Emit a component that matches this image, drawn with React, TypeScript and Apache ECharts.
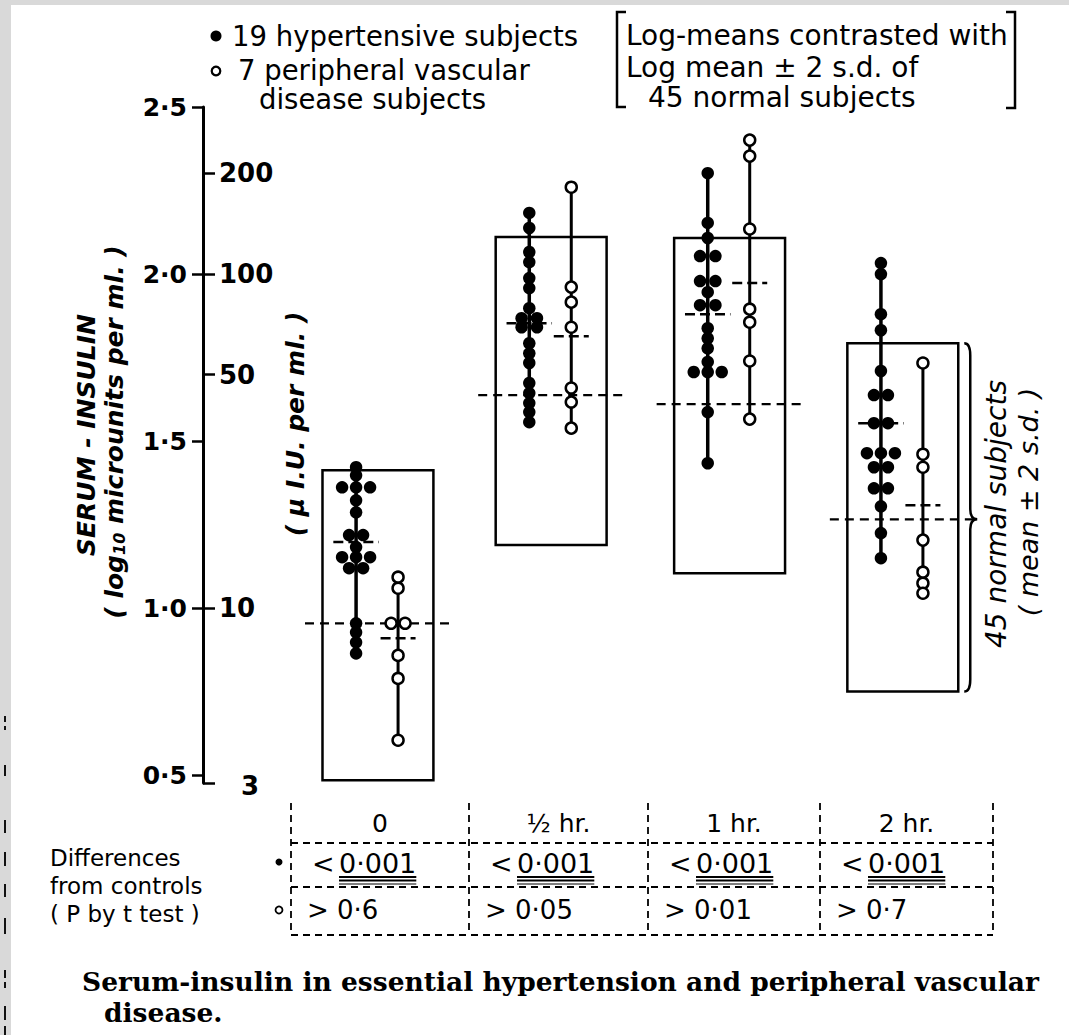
import React, { useEffect, useRef } from "react";
import * as echarts from "echarts";

// ---------------- data (log10 serum-insulin, microunits / ml) ----------------
const timeLabels = ["0", "½ hr.", "1 hr.", "2 hr."];

// 19 hypertensive subjects per time point
const hyper0 = [1.422, 1.398, 1.362, 1.362, 1.362, 1.323, 1.287, 1.219, 1.219, 1.183, 1.153, 1.153, 1.153, 1.12, 1.12, 0.955, 0.928, 0.898, 0.865];
const hyper1 = [2.183, 2.138, 2.066, 2.036, 1.988, 1.958, 1.898, 1.868, 1.868, 1.841, 1.841, 1.793, 1.763, 1.734, 1.674, 1.644, 1.614, 1.587, 1.557];
const hyper2 = [2.302, 2.153, 2.108, 2.054, 2.054, 1.979, 1.979, 1.946, 1.907, 1.907, 1.838, 1.808, 1.778, 1.737, 1.707, 1.707, 1.707, 1.587, 1.434];
const hyper3 = [2.033, 2.0, 1.88, 1.832, 1.71, 1.638, 1.638, 1.554, 1.554, 1.464, 1.464, 1.464, 1.422, 1.422, 1.359, 1.359, 1.305, 1.225, 1.15];
// side-by-side slot of each dot (tied values)
const hyperSlot0 = [0, 0, -1, 0, 1, 0, 0, -0.5, 0.5, 0, -1, 0, 1, -0.5, 0.5, 0, 0, 0, 0];
const hyperSlot1 = [0, 0, 0, 0, 0, 0, 0, -0.55, 0.55, -0.55, 0.55, 0, 0, 0, 0, 0, 0, 0, 0];
const hyperSlot2 = [0, 0, 0, -0.55, 0.55, -0.55, 0.55, 0, -0.55, 0.55, 0, 0, 0, 0, -1, 0, 1, 0, 0];
const hyperSlot3 = [0, 0, 0, 0, 0, -0.5, 0.5, -0.5, 0.5, -1, 0, 1, -0.5, 0.5, -0.5, 0.5, 0, 0, 0];

// 7 peripheral vascular disease subjects per time point
const pvd0 = [1.093, 1.06, 0.955, 0.955, 0.859, 0.79, 0.605];
const pvd1 = [2.26, 1.961, 1.916, 1.841, 1.659, 1.617, 1.539];
const pvd2 = [2.401, 2.353, 2.135, 1.895, 1.856, 1.74, 1.566];
const pvd3 = [1.734, 1.461, 1.422, 1.204, 1.108, 1.075, 1.045];
const pvdSlot0 = [0, 0, -0.5, 0.5, 0, 0, 0];
const pvdSlot1 = [0, 0, 0, 0, 0, 0, 0];
const pvdSlot2 = [0, 0, 0, 0, 0, 0, 0];
const pvdSlot3 = [0, 0, 0, 0, 0, 0, 0];

// log-means of each group
const hyperLogMean = [1.198, 1.853, 1.88, 1.554];
const pvdLogMean = [0.91, 1.814, 1.973, 1.308];

// 45 normal subjects: log mean and log mean ± 2 s.d.
const normalLogMean = [0.955, 1.638, 1.611, 1.266];
const normalUpper = [1.413, 2.111, 2.108, 1.793];
const normalLower = [0.485, 1.189, 1.105, 0.751];

// P by t test
const pHyper = ["0·001", "0·001", "0·001", "0·001"];
const pPvd = ["> 0·6", "> 0·05", "> 0·01", "> 0·7"];
const rowLabels = ["Differences", "from controls", "( P by t test )"];

// axis ticks
const leftTicks = [0.5, 1.0, 1.5, 2.0, 2.5];
const rightTickLabels = [200, 100, 50, 10, 3];

// ---------------- layout ----------------
const W = 1069;
const H = 1035;
const FONT = '"DejaVu Sans", "Noto Sans", sans-serif';
const SERIF = '"DejaVu Serif", "Liberation Serif", serif';
const GROUP_X = [0, 0.99, 2.01, 3.0];
const HYPER_DX = -0.125;
const PVD_DX = 0.115;
const SLOT = 0.08;
const BOX_HALF = 0.317;
const NORMAL_EXT = 0.1;
const HYPER_MEAN_HALF = 0.13;
const PVD_MEAN_HALF = 0.1;

const hyperAll = [hyper0, hyper1, hyper2, hyper3];
const hyperSlots = [hyperSlot0, hyperSlot1, hyperSlot2, hyperSlot3];
const pvdAll = [pvd0, pvd1, pvd2, pvd3];
const pvdSlots = [pvdSlot0, pvdSlot1, pvdSlot2, pvdSlot3];

function measure(text: string, font: string): number {
  const c = document.createElement("canvas").getContext("2d");
  if (!c) return text.length * 12;
  c.font = font;
  return c.measureText(text).width;
}

function lineItem(params: any, api: any, dash: number[] | null, width: number) {
  const p0 = api.coord([api.value(0), api.value(2)]);
  const p1 = api.coord([api.value(1), api.value(2)]);
  return {
    type: "line",
    shape: { x1: p0[0], y1: p0[1], x2: p1[0], y2: p1[1] },
    style: { stroke: "#000", lineWidth: width, lineDash: dash || undefined, fill: "none" },
  };
}

function vItem(params: any, api: any, width: number) {
  const p0 = api.coord([api.value(0), api.value(1)]);
  const p1 = api.coord([api.value(0), api.value(2)]);
  return {
    type: "line",
    shape: { x1: p0[0], y1: p0[1], x2: p1[0], y2: p1[1] },
    style: { stroke: "#000", lineWidth: width, fill: "none" },
  };
}

function txt(text: string, x: number, y: number, font: string, align: string, lineHeight?: number): any {
  const style: any = { text, font, fill: "#000", align, verticalAlign: "middle" };
  if (lineHeight) style.lineHeight = lineHeight;
  return { type: "text", x, y, style };
}

function buildOption(): any {
  const LOG3 = Math.log10(3);
  const rightTicks = rightTickLabels.map((v) => Math.log10(v));

  const boxData = GROUP_X.map((c, i) => [c - BOX_HALF, c + BOX_HALF, normalUpper[i], normalLower[i]]);
  const normalLineData = GROUP_X.map((c, i) => [c - BOX_HALF - NORMAL_EXT, c + BOX_HALF + NORMAL_EXT, normalLogMean[i]]);
  const hyperColData = GROUP_X.map((c, i) => [c + HYPER_DX, Math.min(...hyperAll[i]), Math.max(...hyperAll[i])]);
  const pvdColData = GROUP_X.map((c, i) => [c + PVD_DX, Math.min(...pvdAll[i]), Math.max(...pvdAll[i])]);
  const hyperMeanData = GROUP_X.map((c, i) => [c + HYPER_DX - HYPER_MEAN_HALF, c + HYPER_DX + HYPER_MEAN_HALF, hyperLogMean[i]]);
  const pvdMeanData = GROUP_X.map((c, i) => [c + PVD_DX - PVD_MEAN_HALF, c + PVD_DX + PVD_MEAN_HALF, pvdLogMean[i]]);
  const hyperPts: number[][] = [];
  hyperAll.forEach((arr, g) => arr.forEach((v, k) => hyperPts.push([GROUP_X[g] + HYPER_DX + hyperSlots[g][k] * SLOT, v])));
  const pvdPts: number[][] = [];
  pvdAll.forEach((arr, g) => arr.forEach((v, k) => pvdPts.push([GROUP_X[g] + PVD_DX + pvdSlots[g][k] * SLOT, v])));
  const braceData = [[GROUP_X[3] + BOX_HALF, normalUpper[3], normalLower[3], normalLogMean[3]]];

  // ---------- table ----------
  const colX = [291, 469, 648, 820, 993];
  const tTop = 803;
  const rowLines = [843, 887, 935];
  const headFont = `25px ${FONT}`;
  const rowFont = `26px ${FONT}`;
  const pFont = `27px ${FONT}`;
  const dash = [7, 5];
  const tableEls: any[] = [];
  colX.forEach((x) =>
    tableEls.push({ type: "line", shape: { x1: x, y1: tTop, x2: x, y2: rowLines[2] }, style: { stroke: "#000", lineWidth: 1.8, lineDash: dash } })
  );
  rowLines.forEach((y) =>
    tableEls.push({ type: "line", shape: { x1: colX[0], y1: y, x2: colX[4], y2: y }, style: { stroke: "#000", lineWidth: 1.8, lineDash: dash } })
  );
  timeLabels.forEach((t, i) => tableEls.push(txt(t, (colX[i] + colX[i + 1]) / 2, 823, headFont, "center")));
  pHyper.forEach((t, i) => {
    const x0 = colX[i] + 21;
    tableEls.push(txt("<", x0, 863, pFont, "left", 26));
    const nx = x0 + 27;
    tableEls.push(txt(t, nx, 863, pFont, "left", 26));
    const w = measure(t, pFont);
    [877, 880.5, 884].forEach((uy, j) =>
      tableEls.push({
        type: "line",
        shape: { x1: nx, y1: uy, x2: nx + w, y2: uy },
        style: { stroke: "#000", lineWidth: j === 2 ? 1.2 : 1.8 },
      })
    );
  });
  pPvd.forEach((t, i) => tableEls.push(txt(t, colX[i] + 16, 910, rowFont, "left", 26)));
  rowLabels.forEach((t, i) => tableEls.push(txt(t, 50, 858 + i * 28, `23px ${FONT}`, "left", 24)));
  tableEls.push({ type: "circle", shape: { cx: 279, cy: 862, r: 3.5 }, style: { fill: "#000" } });
  tableEls.push({ type: "circle", shape: { cx: 279, cy: 910, r: 3.5 }, style: { fill: "#fff", stroke: "#000", lineWidth: 1.8 } });

  // ---------- legend / notes ----------
  const legFont = `27.5px ${FONT}`;
  const noteFont = `28px ${FONT}`;
  const legendEls: any[] = [
    { type: "circle", shape: { cx: 216, cy: 36, r: 5.5 }, style: { fill: "#000" } },
    txt("19 hypertensive subjects", 232, 36, legFont, "left", 27),
    { type: "circle", shape: { cx: 216, cy: 71, r: 4.3 }, style: { fill: "#fff", stroke: "#000", lineWidth: 2.2 } },
    txt("7 peripheral vascular", 238, 70, legFont, "left", 27),
    txt("disease subjects", 259, 99, legFont, "left", 27),
    { type: "polyline", shape: { points: [[626, 12], [617, 12], [617, 107], [626, 107]] }, style: { stroke: "#000", lineWidth: 2.5, fill: "none" } },
    { type: "polyline", shape: { points: [[1006, 12], [1015, 12], [1015, 108], [1006, 108]] }, style: { stroke: "#000", lineWidth: 2.5, fill: "none" } },
    txt("Log-means contrasted with", 626, 35, noteFont, "left", 27),
    txt("Log mean ± 2 s.d. of", 626, 67, noteFont, "left", 27),
    txt("45 normal subjects", 648, 97, noteFont, "left", 27),
  ];

  const titleEls: any[] = [
    {
      type: "text",
      x: 86,
      y: 435,
      rotation: Math.PI / 2,
      style: { text: "SERUM - INSULIN", font: `italic bold 25px ${FONT}`, fill: "#000", align: "center", verticalAlign: "middle" },
    },
    {
      type: "text",
      x: 114,
      y: 432,
      rotation: Math.PI / 2,
      style: {
        text: "( log{sub|10} microunits per ml. )",
        font: `italic bold 25px ${FONT}`,
        fill: "#000",
        align: "center",
        verticalAlign: "middle",
        rich: { sub: { font: `italic bold 16px ${FONT}`, fill: "#000", verticalAlign: "bottom", padding: [10, 0, 0, 0] } },
      },
    },
    {
      type: "text",
      x: 295,
      y: 424,
      rotation: Math.PI / 2,
      style: { text: "( μ I.U. per ml. )", font: `italic bold 25px ${FONT}`, fill: "#000", align: "center", verticalAlign: "middle" },
    },
    {
      type: "text",
      x: 996,
      y: 514,
      rotation: Math.PI / 2,
      style: { text: "45 normal subjects", font: `italic 28px ${FONT}`, fill: "#000", align: "center", verticalAlign: "middle" },
    },
    {
      type: "text",
      x: 1028,
      y: 502,
      rotation: Math.PI / 2,
      style: { text: "( mean ± 2 s.d. )", font: `italic 27px ${FONT}`, fill: "#000", align: "center", verticalAlign: "middle" },
    },
    txt("Serum-insulin in essential hypertension and peripheral vascular", 82, 981, `bold 26.5px ${SERIF}`, "left", 28),
    txt("disease.", 104, 1012, `bold 26.5px ${SERIF}`, "left", 28),
  ];

  // fragments of the neighbouring page in the left margin
  const marginEls: any[] = [
    [716, 722], [726, 730], [765, 776], [820, 833], [852, 866], [884, 897], [918, 934], [970, 978], [982, 988], [1006, 1020], [1026, 1035],
  ].map(([a, b]) => ({ type: "line", shape: { x1: 5, y1: a, x2: 5, y2: b }, style: { stroke: "#111", lineWidth: 2 } }));

  return {
    animation: false,
    backgroundColor: "transparent",
    grid: { left: 203, right: 0, top: 107, bottom: H - 783 },
    xAxis: { type: "value", min: -1, max: 3.95, show: false },
    yAxis: [
      {
        type: "value",
        min: LOG3,
        max: 2.5,
        position: "left",
        axisLine: { show: true, onZero: false, lineStyle: { color: "#000", width: 3 } },
        axisTick: { show: true, customValues: leftTicks, length: 11, lineStyle: { color: "#000", width: 2.5 } },
        axisLabel: {
          customValues: leftTicks,
          formatter: (v: number) => v.toFixed(1).replace(".", "·"),
          color: "#000",
          fontSize: 25,
          fontWeight: "bold",
          fontFamily: FONT,
          margin: 16,
        },
        splitLine: { show: false },
      },
      {
        type: "value",
        min: LOG3,
        max: 2.5,
        position: "left",
        axisLine: { show: false, onZero: false },
        axisTick: { show: true, inside: true, customValues: rightTicks, length: 12, lineStyle: { color: "#000", width: 2.5 } },
        axisLabel: {
          inside: true,
          customValues: rightTicks,
          formatter: (v: number) => {
            const n = Math.round(Math.pow(10, v));
            return n === 3 ? "{s|3}" : String(n);
          },
          rich: { s: { fontSize: 26, fontWeight: "bold", fontFamily: FONT, color: "#000", padding: [6, 0, 0, 22] } },
          color: "#000",
          fontSize: 26,
          fontWeight: "bold",
          fontFamily: FONT,
          margin: 16,
        },
        splitLine: { show: false },
      },
    ],
    graphic: [...legendEls, ...titleEls, ...tableEls, ...marginEls],
    series: [
      {
        type: "custom",
        name: "normal range",
        z: 1,
        clip: false,
        data: boxData,
        renderItem: (params: any, api: any) => {
          const p0 = api.coord([api.value(0), api.value(2)]);
          const p1 = api.coord([api.value(1), api.value(3)]);
          return {
            type: "rect",
            shape: { x: p0[0], y: p0[1], width: p1[0] - p0[0], height: p1[1] - p0[1] },
            style: { fill: "none", stroke: "#000", lineWidth: 2.5 },
          };
        },
      },
      {
        type: "custom",
        name: "normal log mean",
        z: 1,
        clip: false,
        data: normalLineData,
        renderItem: (p: any, api: any) => lineItem(p, api, [9, 6], 2.2),
      },
      {
        type: "custom",
        name: "hypertensive range",
        z: 2,
        clip: false,
        data: hyperColData,
        renderItem: (p: any, api: any) => vItem(p, api, 3.5),
      },
      {
        type: "custom",
        name: "pvd range",
        z: 2,
        clip: false,
        data: pvdColData,
        renderItem: (p: any, api: any) => vItem(p, api, 3),
      },
      {
        type: "custom",
        name: "hypertensive log mean",
        z: 2,
        clip: false,
        data: hyperMeanData,
        renderItem: (p: any, api: any) => lineItem(p, api, [10, 5], 2.5),
      },
      {
        type: "custom",
        name: "pvd log mean",
        z: 2,
        clip: false,
        data: pvdMeanData,
        renderItem: (p: any, api: any) => lineItem(p, api, [10, 5], 2.5),
      },
      {
        type: "scatter",
        name: "19 hypertensive subjects",
        z: 3,
        symbol: "circle",
        symbolSize: 12.5,
        itemStyle: { color: "#000", opacity: 1 },
        data: hyperPts,
      },
      {
        type: "scatter",
        name: "7 peripheral vascular disease subjects",
        z: 4,
        symbol: "circle",
        symbolSize: 11,
        itemStyle: { color: "#fff", borderColor: "#000", borderWidth: 2.5, opacity: 1 },
        data: pvdPts,
      },
      {
        type: "custom",
        name: "brace",
        z: 2,
        clip: false,
        data: braceData,
        renderItem: (params: any, api: any) => {
          const t = api.coord([api.value(0), api.value(1)]);
          const b = api.coord([api.value(0), api.value(2)]);
          const m = api.coord([api.value(0), api.value(3)]);
          const x0 = t[0] + 6;
          const x1 = x0 + 6;
          const x2 = x1 + 7;
          const d =
            `M ${x0} ${t[1]} Q ${x1} ${t[1]} ${x1} ${t[1] + 12} L ${x1} ${m[1] - 10} Q ${x1} ${m[1]} ${x2} ${m[1]} ` +
            `Q ${x1} ${m[1]} ${x1} ${m[1] + 10} L ${x1} ${b[1] - 12} Q ${x1} ${b[1]} ${x0} ${b[1]}`;
          return { type: "path", shape: { pathData: d }, style: { fill: "none", stroke: "#000", lineWidth: 2.5 } };
        },
      },
    ],
  };
}

export default function App() {
  const ref = useRef<HTMLDivElement>(null);
  useEffect(() => {
    if (!ref.current) return;
    const chart = echarts.init(ref.current, null, { renderer: "svg" });
    chart.setOption(buildOption());
    return () => chart.dispose();
  }, []);
  return (
    <div style={{ position: "absolute", left: 0, top: 0, width: W, height: H, background: "#d9d9d9", overflow: "hidden" }}>
      <div style={{ position: "absolute", left: 11, top: 5, right: 0, bottom: 0, background: "#fff" }} />
      <div ref={ref} style={{ position: "absolute", left: 0, top: 0, width: W, height: H }} />
    </div>
  );
}
